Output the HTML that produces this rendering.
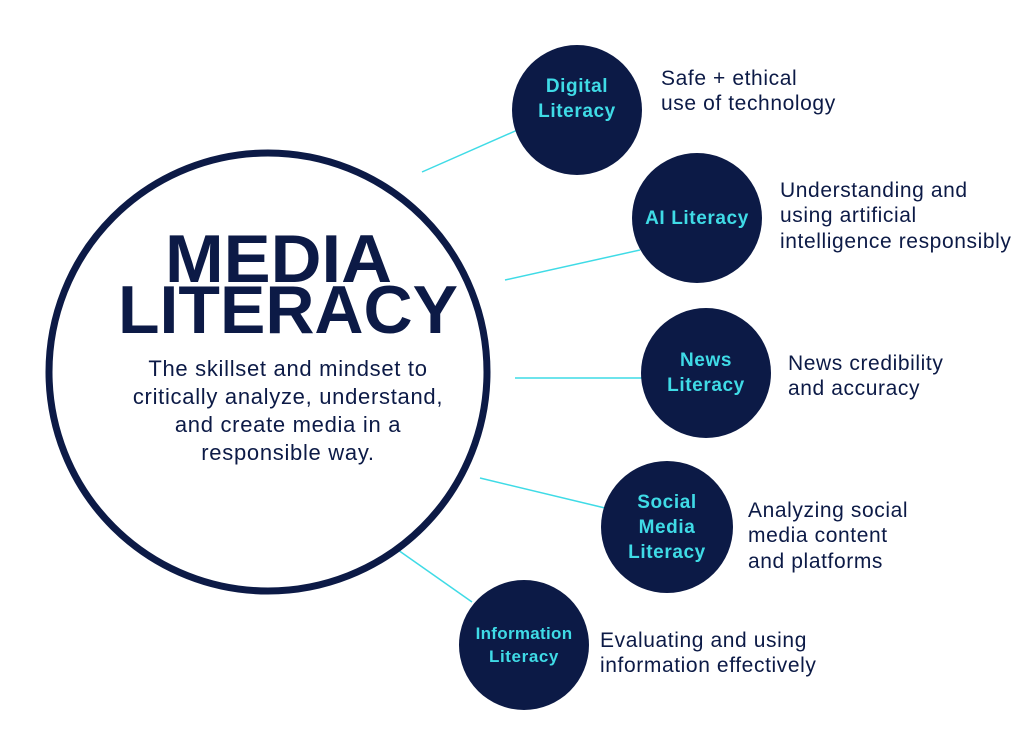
<!DOCTYPE html>
<html><head><meta charset="utf-8"><style>
body{margin:0;background:#fff;}
svg{display:block}
text{font-family:"Liberation Sans",sans-serif;}
</style></head><body>
<svg width="1024" height="747" viewBox="0 0 1024 747" xmlns="http://www.w3.org/2000/svg">
<g stroke="#3fdbe6" stroke-width="1.5">
<line x1="422" y1="172" x2="522" y2="128"/>
<line x1="505" y1="280" x2="640" y2="250"/>
<line x1="515" y1="378" x2="642" y2="378"/>
<line x1="480" y1="478" x2="605" y2="508"/>
<line x1="398" y1="550" x2="472" y2="602"/>
</g>
<circle cx="268" cy="372" r="219" fill="#fff" stroke="#0c1a46" stroke-width="7"/>
<g fill="#0c1a46">
<circle cx="577" cy="110" r="65"/>
<circle cx="697" cy="218" r="65"/>
<circle cx="706" cy="373" r="65"/>
<circle cx="667" cy="527" r="66"/>
<circle cx="524" cy="645" r="65"/>
</g>
<g fill="#0c1a46" font-weight="bold" font-size="68">
<text x="165" y="282" textLength="227" lengthAdjust="spacingAndGlyphs">MEDIA</text>
<text x="118" y="333" textLength="340" lengthAdjust="spacingAndGlyphs">LITERACY</text>
</g>
<g fill="#0c1a46" text-anchor="middle" font-size="22" letter-spacing="0.7">
<text x="288" y="376">The skillset and mindset to</text>
<text x="288" y="404">critically analyze, understand,</text>
<text x="288" y="432">and create media in a</text>
<text x="288" y="460">responsible way.</text>
</g>
<g fill="#3fdbe6" text-anchor="middle" font-size="19" font-weight="bold" letter-spacing="0.6">
<text x="577" y="92">Digital</text><text x="577" y="117">Literacy</text>
<text x="697" y="224">AI Literacy</text>
<text x="706" y="366">News</text><text x="706" y="391">Literacy</text>
<text x="667" y="508">Social</text><text x="667" y="533">Media</text><text x="667" y="558">Literacy</text>
<text x="524" y="639" font-size="17" letter-spacing="0.3">Information</text><text x="524" y="662" font-size="17">Literacy</text>
</g>
<g fill="#0c1a46" font-size="21" letter-spacing="0.6">
<text x="661" y="85">Safe + ethical</text><text x="661" y="110">use of technology</text>
<text x="780" y="197">Understanding and</text><text x="780" y="222">using artificial</text><text x="780" y="248">intelligence responsibly</text>
<text x="788" y="370">News credibility</text><text x="788" y="395">and accuracy</text>
<text x="748" y="517">Analyzing social</text><text x="748" y="542">media content</text><text x="748" y="568">and platforms</text>
<text x="600" y="647">Evaluating and using</text><text x="600" y="672">information effectively</text>
</g>
</svg>
</body></html>
